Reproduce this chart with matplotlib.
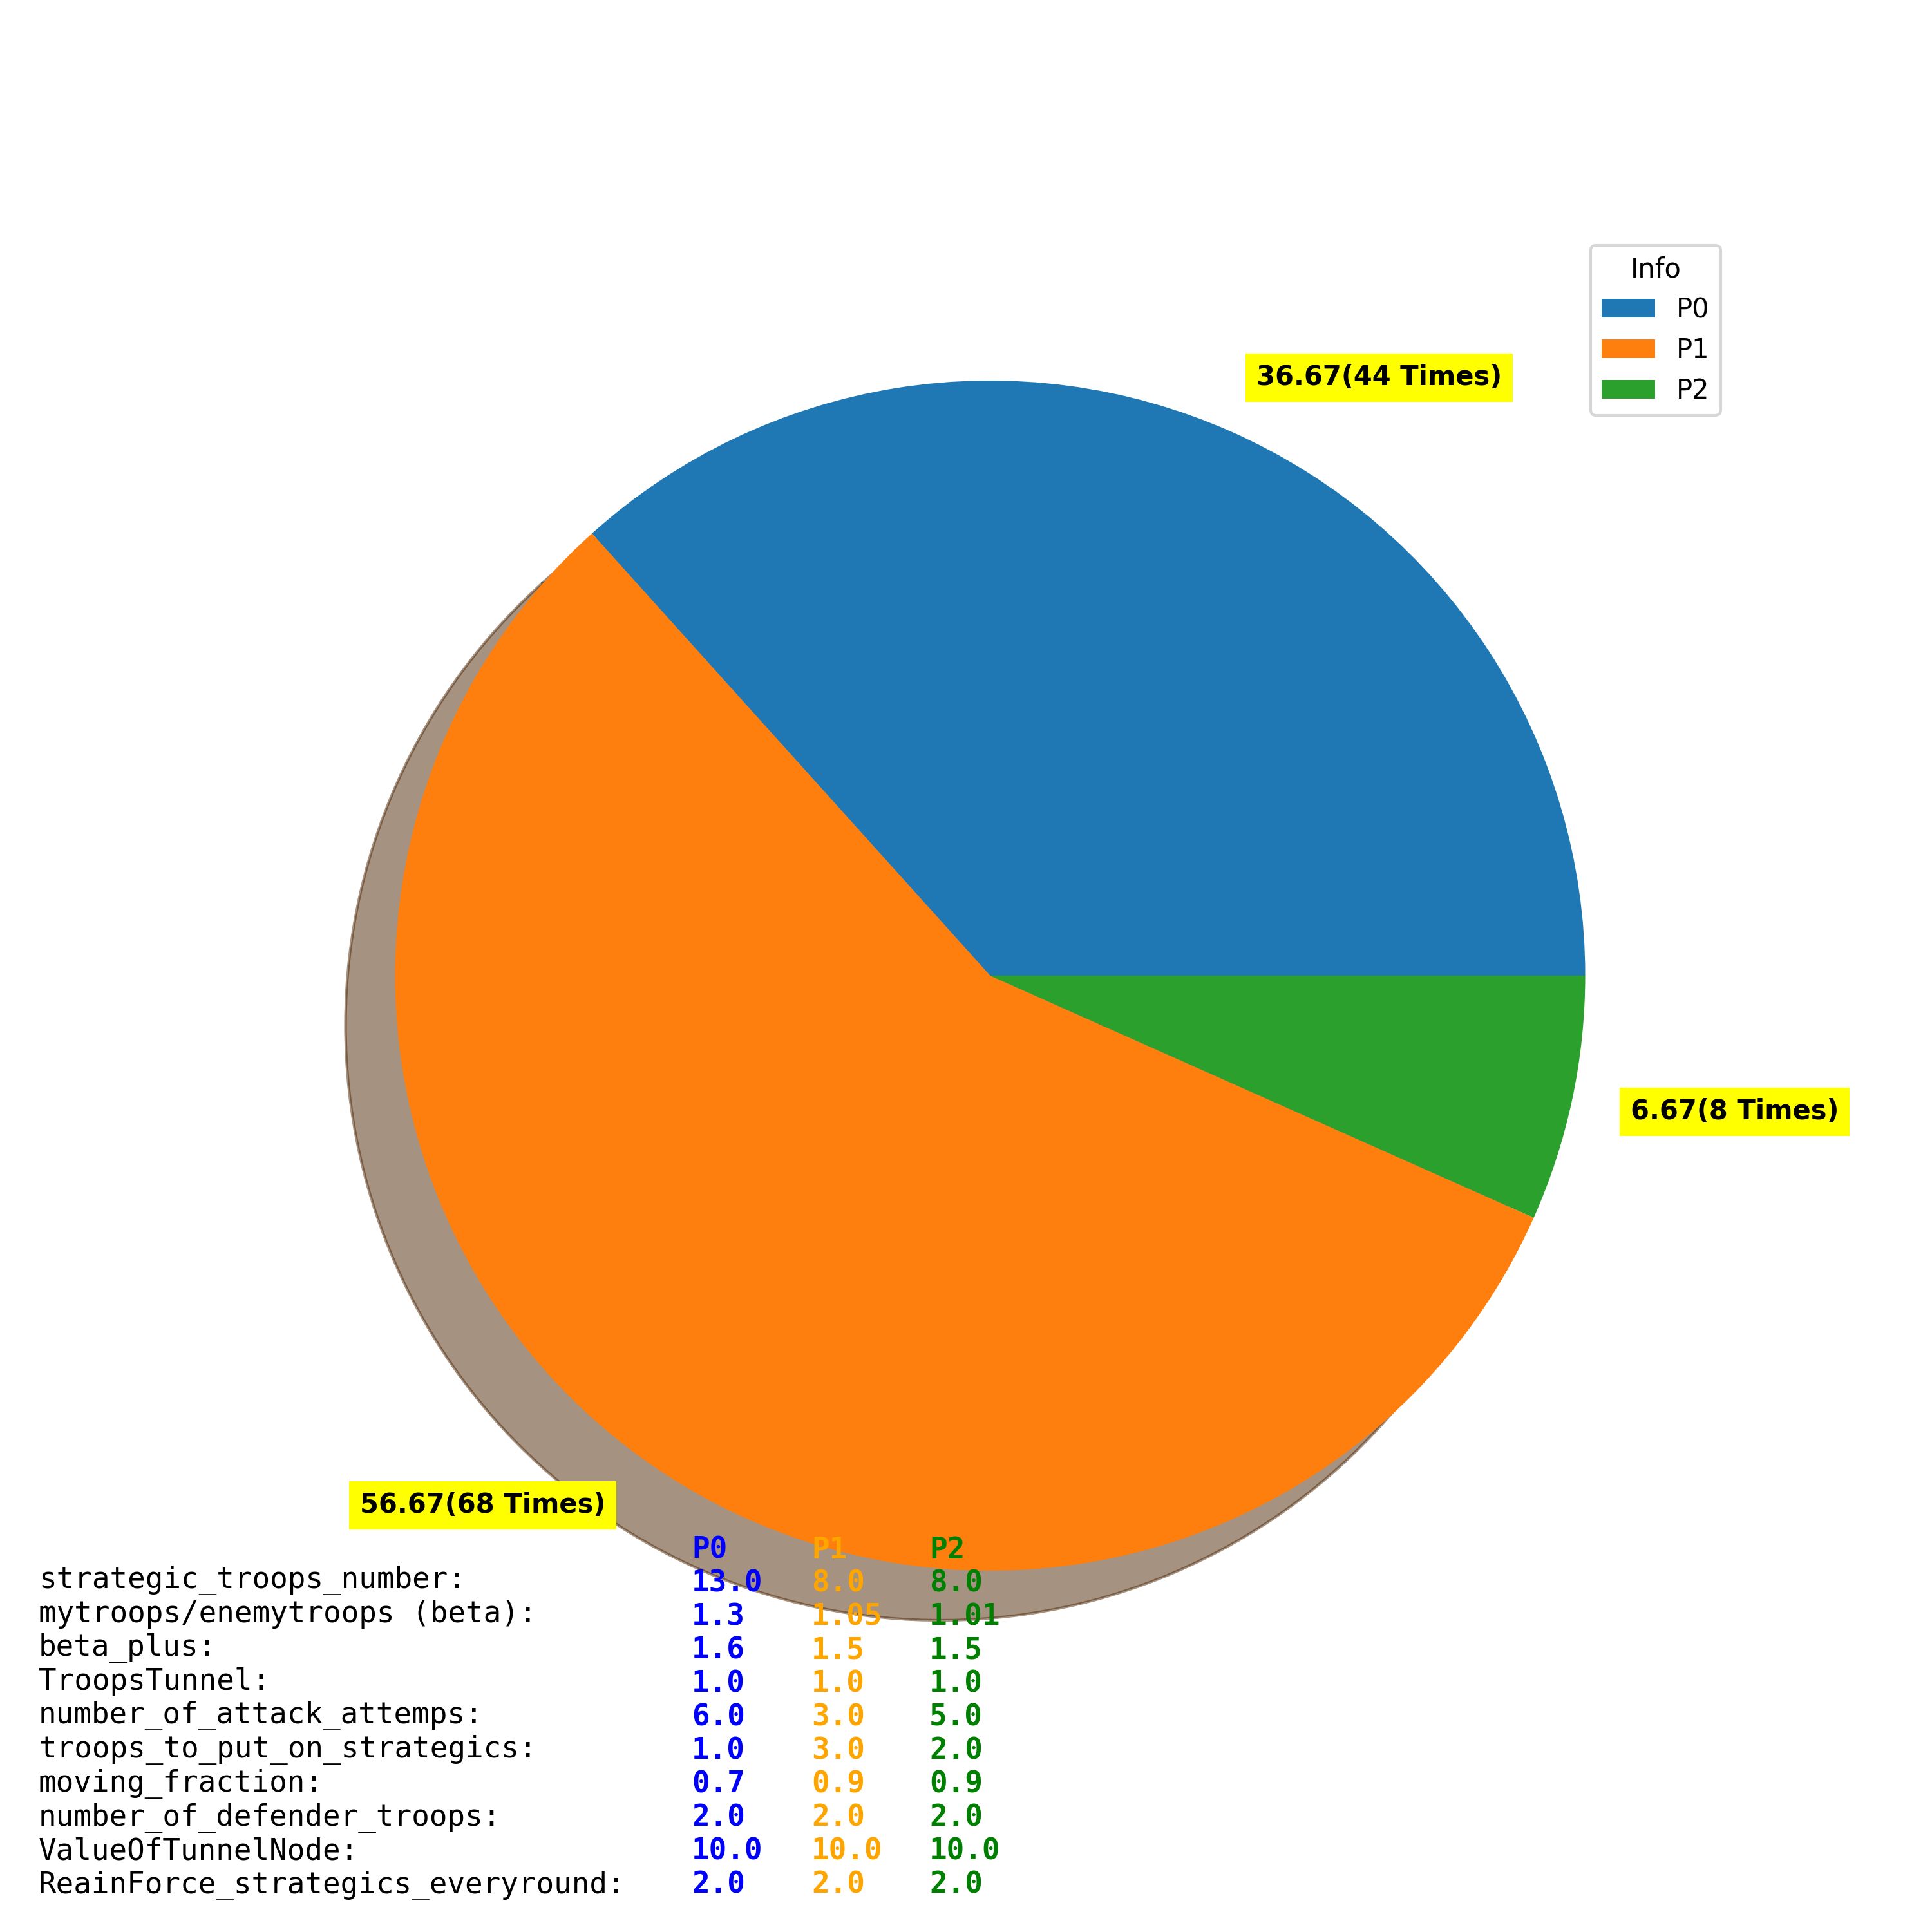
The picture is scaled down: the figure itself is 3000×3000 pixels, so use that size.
import matplotlib
matplotlib.use('Agg')
import matplotlib.pyplot as plt

players = ['P0', 'P1', 'P2']
wins = [44, 68, 8]
player_colors = ['blue', 'orange', 'green']

param_names = [
    'strategic_troops_number:',
    'mytroops/enemytroops (beta):',
    'beta_plus:',
    'TroopsTunnel:',
    'number_of_attack_attemps:',
    'troops_to_put_on_strategics:',
    'moving_fraction:',
    'number_of_defender_troops:',
    'ValueOfTunnelNode:',
    'ReainForce_strategics_everyround:',
]
p0_params = [13.0, 1.3, 1.6, 1.0, 6.0, 1.0, 0.7, 2.0, 10.0, 2.0]
p1_params = [8.0, 1.05, 1.5, 1.0, 3.0, 3.0, 0.9, 2.0, 10.0, 2.0]
p2_params = [8.0, 1.01, 1.5, 1.0, 5.0, 2.0, 0.9, 2.0, 10.0, 2.0]

total = sum(wins)
labels = [f'{w / total * 100:.2f}({w} Times)' for w in wins]

fig, ax = plt.subplots(figsize=(10, 10), dpi=300)
ax.pie(wins, labels=labels, shadow=True,
       textprops={'fontweight': 'bold',
                  'bbox': dict(facecolor='yellow', edgecolor='none')})
ax.legend(labels=players, title='Info', loc='upper right')

# parameter table under the pie
fig.text(0.02, 0.02, '\n'.join(param_names), family='monospace',
         fontsize=11)
col_x = [0.358, 0.42, 0.481]
for name, vals, col, x in zip(players, [p0_params, p1_params, p2_params],
                              player_colors, col_x):
    txt = name + '\n' + '\n'.join(str(v) for v in vals)
    fig.text(x, 0.02, txt, family='monospace', fontsize=11,
             fontweight='bold', color=col)

plt.savefig('out.png')
